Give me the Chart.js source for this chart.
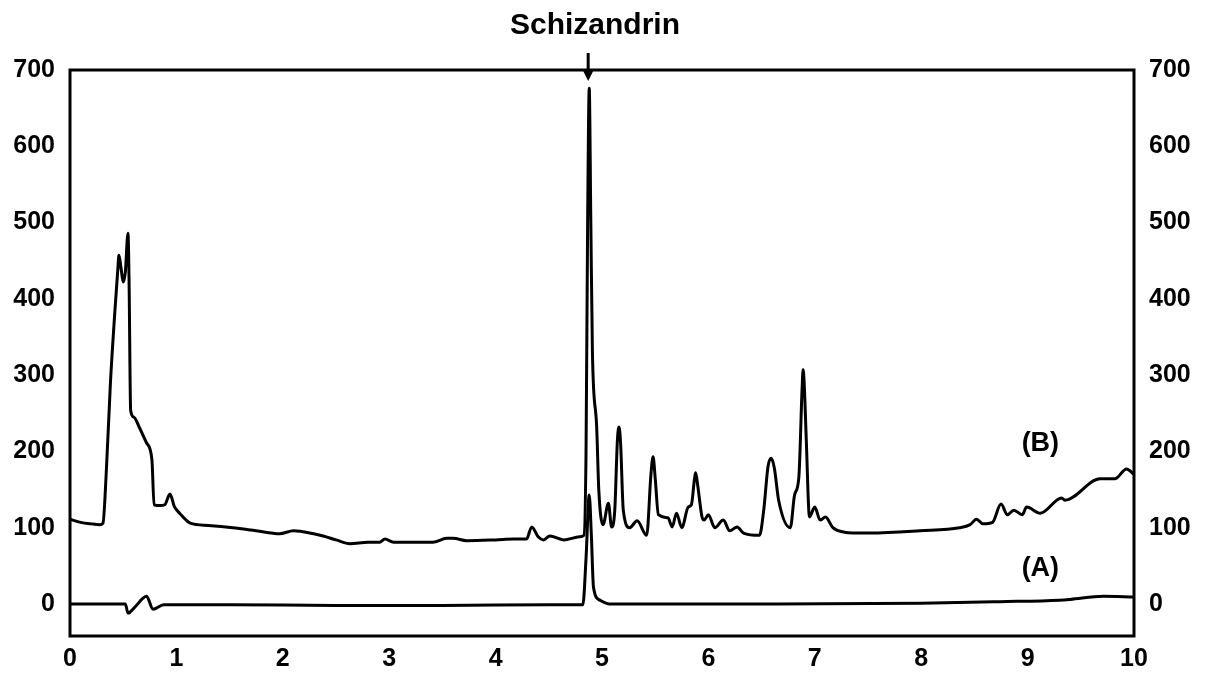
<!DOCTYPE html>
<html>
<head>
<meta charset="utf-8">
<script src="https://cdn.jsdelivr.net/npm/chart.js@4"></script>
<style>
  html, body { margin: 0; padding: 0; background: #fff; }
  #wrap { width: 1205px; height: 678px; }
</style>
</head>
<body>
<div id="wrap"><canvas id="chrom"></canvas></div>
<script>
// trace (B): sample chromatogram
const timeB = [0.00, 0.10, 0.20, 0.28, 0.31, 0.34, 0.38, 0.42, 0.45, 0.46, 0.48, 0.50, 0.52, 0.545, 0.555, 0.57, 0.60, 0.65, 0.72, 0.77,
  0.79, 0.85, 0.89, 0.94, 0.98, 1.03, 1.13, 1.30, 1.53, 1.75, 1.97, 2.10, 2.29, 2.38, 2.50, 2.63, 2.80, 2.91, 2.96, 3.04,
  3.41, 3.54, 3.60, 3.73, 4.00, 4.17, 4.29, 4.34, 4.40, 4.45, 4.51, 4.64, 4.79, 4.83, 4.85, 4.865, 4.88, 4.895, 4.91, 4.95,
  4.97, 5.01, 5.06, 5.09, 5.12, 5.145, 5.16, 5.175, 5.20, 5.26, 5.33, 5.42, 5.46, 5.48, 5.50, 5.53, 5.62, 5.66, 5.70, 5.75,
  5.81, 5.84, 5.87, 5.88, 5.90, 5.94, 5.96, 6.00, 6.06, 6.14, 6.20, 6.27, 6.33, 6.48, 6.52, 6.56, 6.59, 6.62, 6.66, 6.77,
  6.81, 6.85, 6.88, 6.89, 6.90, 6.92, 6.95, 7.00, 7.05, 7.10, 7.17, 7.28, 7.36, 7.52, 7.99, 8.36, 8.46, 8.52, 8.58, 8.67,
  8.75, 8.81, 8.87, 8.95, 8.99, 9.12, 9.32, 9.35, 9.68, 9.82, 9.93, 10.00];
const signalB = [111, 107, 105, 104, 106, 170, 290, 380, 440, 457, 440, 422, 435, 486, 425, 254, 245, 232, 211, 189,
  130, 129, 130, 144, 128, 119, 106, 103, 100, 96, 92, 96, 92, 89, 84, 79, 81, 81, 85, 81,
  81, 86, 86, 83, 84, 85, 85, 101, 88, 84, 89, 84, 88, 90, 200, 500, 676, 500, 330, 232,
  149, 104, 132, 101, 123, 215, 232, 210, 123, 100, 109, 90, 170, 193, 165, 117, 113, 101, 119, 100,
  127, 130, 165, 172, 155, 114, 110, 117, 100, 110, 96, 101, 93, 90, 123, 180, 191, 178, 136, 100,
  143, 166, 280, 307, 290, 215, 114, 127, 110, 114, 100, 94, 93, 93, 96, 100, 104, 111, 105, 107,
  131, 117, 123, 117, 127, 119, 139, 136, 164, 164, 177, 170];

// trace (A): blank / standard
const timeA = [0, 0.52, 0.545, 0.61, 0.72, 0.78, 0.88, 1.5, 2.5, 3.5, 4.5, 4.82, 4.85, 4.88, 4.90, 4.92, 4.98, 5.07, 6.64, 8.0,
  8.74, 9.30, 9.40, 9.71, 10.0];
const signalA = [0, 0, -12, -4, 10, -7, -1, -1, -2, -2, -1, -1, 60, 143, 90, 22, 5, 0, 0, 1,
  3, 5, 6, 10, 9];

const xTicks = [0, 1, 2, 3, 4, 5, 6, 7, 8, 9, 10];
const yTicks = [0, 100, 200, 300, 400, 500, 600, 700];

const peakName = 'Schizandrin';
const peakTime = 4.87;

const tickFont = { family: 'Liberation Sans, Arial, sans-serif', size: 25, weight: 'bold' };

const toPoints = (xs, ys) => xs.map((x, i) => ({ x: x, y: ys[i] }));
const setTicks = (vals) => (scale) => { scale.ticks = vals.map(v => ({ value: v })); };

const decorations = {
  id: 'decorations',
  afterDraw(chart) {
    const ctx = chart.ctx;
    const a = chart.chartArea;
    const xs = chart.scales.x;
    const ys = chart.scales.y;
    ctx.save();
    // frame
    ctx.strokeStyle = '#000';
    ctx.lineWidth = 3;
    ctx.strokeRect(a.left, a.top, a.right - a.left, a.bottom - a.top);

    // peak label + arrow
    const px = xs.getPixelForValue(peakTime);
    ctx.fillStyle = '#000';
    ctx.font = 'bold 30px Liberation Sans, Arial, sans-serif';
    ctx.textAlign = 'center';
    ctx.textBaseline = 'middle';
    ctx.fillText(peakName, 595, 26);
    ctx.lineWidth = 3;
    ctx.beginPath();
    ctx.moveTo(px, 53);
    ctx.lineTo(px, 72);
    ctx.stroke();
    ctx.beginPath();
    ctx.moveTo(px - 6, 69);
    ctx.lineTo(px + 6, 69);
    ctx.lineTo(px, 81);
    ctx.closePath();
    ctx.fill();

    // trace labels
    ctx.font = 'bold 27px Liberation Sans, Arial, sans-serif';
    ctx.fillText('(B)', xs.getPixelForValue(9.12), ys.getPixelForValue(210));
    ctx.fillText('(A)', xs.getPixelForValue(9.12), ys.getPixelForValue(47));
    ctx.restore();
  }
};

new Chart(document.getElementById('chrom'), {
  type: 'line',
  data: {
    datasets: [
      { label: '(B)', data: toPoints(timeB, signalB), borderColor: '#000', borderWidth: 3, pointRadius: 0, cubicInterpolationMode: 'monotone' },
      { label: '(A)', data: toPoints(timeA, signalA), borderColor: '#000', borderWidth: 3, pointRadius: 0, cubicInterpolationMode: 'monotone' }
    ]
  },
  options: {
    responsive: true,
    maintainAspectRatio: false,
    animation: false,
    layout: { padding: { top: 70, left: 0, right: 0, bottom: 0 } },
    plugins: { legend: { display: false }, tooltip: { enabled: false } },
    scales: {
      x: {
        type: 'linear',
        min: 0, max: 10,
        afterBuildTicks: setTicks(xTicks),
        afterFit: (s) => { s.height = 42; },
        grid: { display: false },
        border: { display: false },
        ticks: { color: '#000', font: tickFont, padding: 0, maxRotation: 0 }
      },
      y: {
        position: 'left',
        min: -42, max: 700,
        afterBuildTicks: setTicks(yTicks),
        afterFit: (s) => { s.width = 70; },
        grid: { display: false },
        border: { display: false },
        ticks: { color: '#000', font: tickFont, padding: 7 }
      },
      y2: {
        position: 'right',
        min: -42, max: 700,
        afterBuildTicks: setTicks(yTicks),
        afterFit: (s) => { s.width = 71; },
        grid: { display: false },
        border: { display: false },
        ticks: { color: '#000', font: tickFont, padding: 7 }
      }
    }
  },
  plugins: [decorations]
});
</script>
</body>
</html>
